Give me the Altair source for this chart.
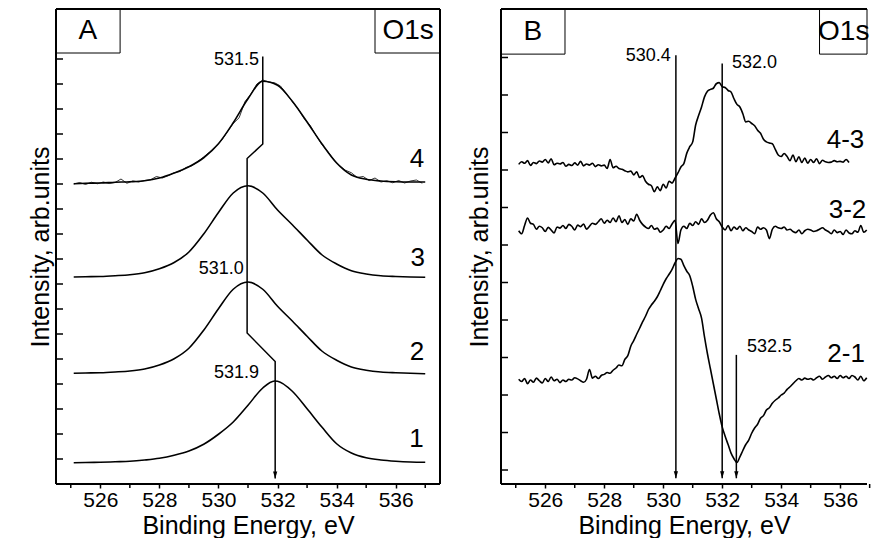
import altair as alt
import pandas as pd

FONT = "Liberation Sans"

# ---------------- Panel A : O1s spectra 1-4 (smooth fits) ----------------
eA = [525.1, 525.5, 526.0, 526.5, 527.0, 527.5, 528.0, 528.5, 529.0, 529.5, 530.0, 530.5,
      531.0, 531.5, 532.0, 532.5, 533.0, 533.5, 534.0, 534.5, 535.0, 535.5, 536.0, 536.5, 537.0]
e1 = [525.1, 525.5, 526.0, 526.5, 527.0, 527.5, 528.0, 528.5, 529.0, 529.5, 530.0, 530.5,
      531.0, 531.5, 531.9, 532.0, 532.5, 533.0, 533.5, 534.0, 534.5, 535.0, 535.5, 536.0, 536.5, 537.0]
fit1 = [0.85, 0.86, 0.87, 0.89, 0.91, 0.96, 1.03, 1.15, 1.32, 1.59, 1.99, 2.48,
        3.15, 3.84, 4.12, 4.11, 3.71, 3.01, 2.28, 1.61, 1.24, 1.05, 0.96, 0.91, 0.88, 0.87]
fit2 = [4.43, 4.44, 4.45, 4.48, 4.52, 4.60, 4.76, 5.01, 5.43, 6.15, 7.01, 7.79,
        8.08, 7.79, 7.11, 6.52, 5.91, 5.32, 4.95, 4.68, 4.55, 4.48, 4.45, 4.43, 4.41]
fit3 = [8.28, 8.29, 8.30, 8.33, 8.37, 8.45, 8.61, 8.86, 9.28, 10.00, 10.86, 11.64,
        11.93, 11.64, 10.96, 10.37, 9.76, 9.17, 8.80, 8.53, 8.40, 8.33, 8.30, 8.28, 8.27]
fit4 = [12.01, 12.03, 12.04, 12.07, 12.09, 12.13, 12.24, 12.44, 12.69, 13.05, 13.61, 14.45,
        15.41, 16.11, 15.95, 15.31, 14.48, 13.61, 12.84, 12.36, 12.19, 12.12, 12.09, 12.08, 12.08]
# raw (noisy) data of spectrum 4, every 0.2 eV from 525.1
raw4 = [12.00, 12.06, 11.98, 12.07, 12.01, 12.08, 12.02, 12.06, 12.20, 12.03,
        12.12, 12.08, 12.14, 12.17, 12.30, 12.24, 12.33, 12.45, 12.50, 12.66,
        12.73, 12.90, 13.08, 13.28, 13.50, 13.74, 14.08, 14.42, 14.65, 15.30,
        15.60, 16.00, 16.16, 16.08, 16.05, 15.92, 15.60, 15.30, 15.00, 14.62,
        14.35, 13.95, 13.58, 13.30, 12.98, 12.74, 12.55, 12.45, 12.26, 12.30,
        12.14, 12.24, 12.08, 12.13, 12.05, 12.14, 12.04, 12.12, 12.16, 12.03]
e_raw4 = [round(525.1 + 0.2 * i, 2) for i in range(len(raw4))]

# peak-position connector (with arrow) in panel A
connA_E = [531.5, 531.5, 530.97, 530.97, 531.92, 531.92]
connA_I = [17.1, 13.6, 13.02, 6.04, 4.9, 0.22]
peakA_text = ["531.5", "531.0", "531.9"]
peakA_E = [531.37, 530.86, 531.37]
peakA_I = [16.96, 8.6, 4.44]
peakA_align = ["right", "right", "right"]
numA_text = ["4", "3", "2", "1"]
numA_E = [536.72, 536.75, 536.72, 536.7]
numA_I = [13.0, 9.04, 5.28, 1.8]
boxA_text = ["A", "O1s"]
boxA_E1 = [524.5, 535.3]
boxA_E2 = [526.67, 537.5]
boxA_I1 = [17.24, 17.24]
boxA_I2 = [19.0, 19.0]
boxA_tE = [525.58, 536.42]
boxA_tI = [18.14, 18.14]
ticksA = list(range(1, 18))

# x-axis: labelled (even) and unlabelled (odd) tick positions
x_major = [526, 528, 530, 532, 534, 536]
x_minor = [525, 527, 529, 531, 533, 535, 537]

# ---------------- Panel B : difference spectra ----------------
b43 = [8.15, 8.22, 8.18, 8.25, 8.12, 8.20, 8.17, 8.24, 8.21, 8.28,
       8.19, 8.30, 8.14, 8.18, 8.16, 8.20, 8.10, 8.15, 8.12, 8.19,
       8.13, 8.23, 8.11, 8.16, 8.13, 8.18, 8.09, 8.14, 8.11, 8.13,
       8.04, 8.28, 8.06, 8.10, 8.04, 8.02, 7.98, 7.95, 7.97, 7.87,
       7.95, 7.80, 7.85, 7.70, 7.62, 7.58, 7.42, 7.55, 7.45, 7.62,
       7.52, 7.70, 7.65, 7.78, 7.92, 8.08, 8.17, 8.45, 8.62, 8.75,
       9.20, 9.45, 9.68, 9.95, 10.10, 10.15, 10.18, 10.30, 10.33, 10.22,
       10.20, 10.12, 10.08, 9.90, 9.75, 9.68, 9.50, 9.28, 9.30, 9.24,
       9.18, 9.06, 8.98, 8.82, 8.75, 8.72, 8.70, 8.55, 8.40, 8.36,
       8.44, 8.36, 8.25, 8.40, 8.22, 8.35, 8.20, 8.32, 8.18, 8.28,
       8.20, 8.30, 8.17, 8.26, 8.22, 8.20, 8.21, 8.25, 8.22, 8.23,
       8.21, 8.28, 8.20]
b32 = [6.38, 6.30, 6.52, 6.72, 6.58, 6.55, 6.42, 6.50, 6.46, 6.36,
       6.47, 6.40, 6.32, 6.48, 6.45, 6.52, 6.44, 6.55, 6.50, 6.40,
       6.53, 6.49, 6.56, 6.42, 6.50, 6.58, 6.55, 6.62, 6.70, 6.58,
       6.66, 6.60, 6.72, 6.62, 6.78, 6.60, 6.68, 6.55, 6.70, 6.64,
       6.82, 6.66, 6.55, 6.48, 6.44, 6.52, 6.42, 6.45, 6.34, 6.40,
       6.50, 6.44, 6.56, 6.66, 6.04, 6.40, 6.50, 6.44, 6.58, 6.52,
       6.62, 6.55, 6.70, 6.60, 6.66, 6.80, 6.86, 6.70, 6.62, 6.48,
       6.40, 6.52, 6.38, 6.48, 6.42, 6.50, 6.38, 6.46, 6.40, 6.36,
       6.30, 6.48, 6.42, 6.46, 6.40, 6.17, 6.42, 6.50, 6.46, 6.44,
       6.48, 6.40, 6.42, 6.36, 6.33, 6.40, 6.30, 6.38, 6.42, 6.40,
       6.36, 6.38, 6.42, 6.46, 6.40, 6.36, 6.30, 6.40, 6.33, 6.36,
       6.28, 6.40, 6.32, 6.30, 6.38, 6.34, 6.52, 6.34, 6.40, 6.42]
b21 = [2.42, 2.36, 2.44, 2.30, 2.40, 2.34, 2.45, 2.38, 2.32, 2.44,
       2.36, 2.48, 2.38, 2.42, 2.33, 2.40, 2.36, 2.42, 2.40, 2.46,
       2.43, 2.38, 2.34, 2.42, 2.68, 2.45, 2.50, 2.44, 2.52, 2.55,
       2.60, 2.58, 2.66, 2.72, 2.80, 2.78, 2.95, 3.05, 3.30, 3.45,
       3.62, 3.78, 3.95, 4.10, 4.28, 4.40, 4.50, 4.62, 4.78, 4.95,
       5.10, 5.22, 5.35, 5.52, 5.64, 5.62, 5.45, 5.30, 5.18, 4.90,
       4.55, 4.30, 4.05, 3.55, 3.10, 2.70, 2.30, 1.90, 1.50, 1.15,
       0.90, 0.68, 0.45, 0.30, 0.20, 0.35, 0.52, 0.68, 0.80, 0.98,
       1.12, 1.22, 1.38, 1.45, 1.60, 1.66, 1.78, 1.86, 1.92, 2.00,
       2.05, 2.15, 2.22, 2.30, 2.38, 2.44, 2.40, 2.45, 2.42, 2.44,
       2.40, 2.46, 2.50, 2.42, 2.48, 2.52, 2.46, 2.50, 2.44, 2.52,
       2.46, 2.50, 2.44, 2.52, 2.48, 2.40, 2.50, 2.38, 2.46, 2.44]
e_b43 = [round(525.1 + 0.1 * i, 2) for i in range(len(b43))]
e_b32 = [round(525.1 + 0.1 * i, 2) for i in range(len(b32))]
e_b21 = [round(525.1 + 0.1 * i, 2) for i in range(len(b21))]

lineB_E = [530.43, 532.0, 532.48]
lineB_top = [11.06, 10.84, 3.07]
lineB_tip = [-0.22, -0.22, -0.22]
peakB_text = ["530.4", "532.0", "532.5"]
peakB_E = [530.26, 532.33, 532.84]
peakB_I = [11.04, 10.85, 3.28]
peakB_align = ["right", "left", "left"]
numB_text = ["4-3", "3-2", "2-1"]
numB_E = [536.18, 536.25, 536.2]
numB_I = [8.8, 6.93, 3.09]
boxB_text = ["B", "O1s"]
boxB_E1 = [524.5, 535.3]
boxB_E2 = [526.67, 536.91]
boxB_I1 = [11.09, 11.09]
boxB_I2 = [12.293, 12.293]
boxB_tE = [525.58, 536.12]
boxB_tI = [11.68, 11.68]
ticksB = list(range(0, 12))

ARROW = "M -0.3 -1 L 0 0 L 0.3 -1 Z"
H = 475


def x_axis():
    return alt.Axis(values=x_major, labelOverlap=False,
                    tickSize=4, tickWidth=1.5, tickColor="black", domain=False, grid=False,
                    labelFont=FONT, labelFontSize=21, labelColor="black", labelPadding=1,
                    title="Binding Energy, eV", titleFont=FONT, titleFontSize=25,
                    titleFontWeight="normal", titleColor="black", titlePadding=3)


def y_axis(tp):
    return alt.Axis(labels=False, ticks=False, domain=False, grid=False,
                    title="Intensity, arb.units", titleFont=FONT, titleFontSize=25,
                    titleFontWeight="normal", titleColor="black", titlePadding=tp)


def panel(lines_df, raw_df, x_dom, y_dom, ytick_df, tp, conn_df, tip_df, rules_df,
          peak_df, num_df, box_df, frame_df, w, h):
    X = alt.X("E:Q", scale=alt.Scale(domain=x_dom, nice=False, zero=False), axis=x_axis())
    Y = alt.Y("I:Q", scale=alt.Scale(domain=y_dom, nice=False, zero=False), axis=y_axis(tp))
    layers = [alt.Chart(lines_df).mark_line(color="black", strokeWidth=1.6, interpolate="monotone")
              .encode(x=X, y=Y, detail="curve:N")]
    if raw_df is not None:
        layers.append(alt.Chart(raw_df).mark_line(color="black", strokeWidth=0.8)
                      .encode(x="E:Q", y="I:Q"))
    if conn_df is not None:
        layers.append(alt.Chart(conn_df).mark_line(color="black", strokeWidth=1.5)
                      .encode(x="E:Q", y="I:Q", order="k:Q"))
    if rules_df is not None:
        layers.append(alt.Chart(rules_df).mark_rule(color="black", strokeWidth=1.5)
                      .encode(x="E:Q", y="I:Q", y2="I2:Q"))
    layers.append(alt.Chart(tip_df).mark_point(shape=ARROW, filled=True, color="black",
                                               size=200, opacity=1)
                  .encode(x="E:Q", y="I:Q"))
    # inward ticks of the left axis
    layers.append(alt.Chart(ytick_df).mark_tick(orient="horizontal", color="black", size=7,
                                                thickness=1.5, opacity=1)
                  .encode(y="I:Q", x=alt.value(3.5)))
    # unlabelled (odd) ticks of the bottom axis
    layers.append(alt.Chart(pd.DataFrame({"E": x_minor})).mark_tick(
        orient="vertical", color="black", size=4, thickness=1.5, opacity=1)
        .encode(x="E:Q", y=alt.value(h + 2)))
    for al in ["right", "left"]:
        sub = peak_df[peak_df["al"] == al]
        if len(sub):
            layers.append(alt.Chart(sub).mark_text(font=FONT, fontSize=18, align=al,
                                                   baseline="middle", color="black")
                          .encode(x="E:Q", y="I:Q", text="t:N"))
    layers.append(alt.Chart(num_df).mark_text(font=FONT, fontSize=26, align="center",
                                              baseline="middle", color="black")
                  .encode(x="E:Q", y="I:Q", text="t:N"))
    layers.append(alt.Chart(box_df).mark_rect(fill="white", stroke="black", strokeWidth=1)
                  .encode(x="E1:Q", x2="E2:Q", y="I1:Q", y2="I2:Q"))
    layers.append(alt.Chart(box_df).mark_text(font=FONT, fontSize=28, align="center",
                                              baseline="middle", color="black")
                  .encode(x="tE:Q", y="tI:Q", text="t:N"))
    layers.append(alt.Chart(frame_df).mark_rule(color="black", strokeWidth=2)
                  .encode(x="E:Q", x2="E2:Q", y="I:Q", y2="I2:Q"))
    return alt.layer(*layers).properties(width=w, height=h)


# ---- data frames A
dfA = pd.concat([
    pd.DataFrame({"E": e1, "I": fit1, "curve": "1"}),
    pd.DataFrame({"E": eA, "I": fit2, "curve": "2"}),
    pd.DataFrame({"E": eA, "I": fit3, "curve": "3"}),
    pd.DataFrame({"E": eA, "I": fit4, "curve": "4"}),
])
rawA = pd.DataFrame({"E": e_raw4, "I": raw4})
connA = pd.DataFrame({"E": connA_E, "I": connA_I, "k": list(range(len(connA_E)))})
tipA = pd.DataFrame({"E": [connA_E[-1]], "I": [connA_I[-1]]})
peakA = pd.DataFrame({"E": peakA_E, "I": peakA_I, "t": peakA_text, "al": peakA_align})
numA = pd.DataFrame({"E": numA_E, "I": numA_I, "t": numA_text})
boxA = pd.DataFrame({"E1": boxA_E1, "E2": boxA_E2, "I1": boxA_I1, "I2": boxA_I2,
                     "tE": boxA_tE, "tI": boxA_tI, "t": boxA_text})
frameA = pd.DataFrame({"E": [524.5, 537.5, 524.5, 524.5], "E2": [524.5, 537.5, 537.5, 537.5],
                       "I": [0, 0, 19, 0], "I2": [19, 19, 19, 0]})
ytickA = pd.DataFrame({"I": ticksA})

# ---- data frames B
dfB = pd.concat([
    pd.DataFrame({"E": e_b43, "I": b43, "curve": "4-3"}),
    pd.DataFrame({"E": e_b32, "I": b32, "curve": "3-2"}),
    pd.DataFrame({"E": e_b21, "I": b21, "curve": "2-1"}),
])
dfB = dfB[dfB["E"] <= 536.9]
rulesB = pd.DataFrame({"E": lineB_E, "I": lineB_tip, "I2": lineB_top})
tipB = pd.DataFrame({"E": lineB_E, "I": lineB_tip})
peakB = pd.DataFrame({"E": peakB_E, "I": peakB_I, "t": peakB_text, "al": peakB_align})
numB = pd.DataFrame({"E": numB_E, "I": numB_I, "t": numB_text})
boxB = pd.DataFrame({"E1": boxB_E1, "E2": boxB_E2, "I1": boxB_I1, "I2": boxB_I2,
                     "tE": boxB_tE, "tI": boxB_tI, "t": boxB_text})
frameB = pd.DataFrame({"E": [524.5, 524.5, 524.5], "E2": [524.5, 536.91, 536.91],
                       "I": [-0.373, 12.293, -0.373], "I2": [12.293, 12.293, -0.373]})
ytickB = pd.DataFrame({"I": ticksB})

chartA = panel(dfA, rawA, [524.5, 537.5], [0, 19], ytickA, 3,
               connA, tipA, None, peakA, numA, boxA, frameA, 384, H)
chartB = panel(dfB, None, [524.5, 536.91], [-0.373, 12.293], ytickB, 9,
               None, tipB, rulesB, peakB, numB, boxB, frameB, 366, H)

chart = alt.hconcat(chartA, chartB, spacing=26).properties(
    padding={"left": 20, "top": 0, "right": 0, "bottom": 0}
).configure_view(stroke=None)

chart.save("out.html", embed_options={"renderer": "svg", "actions": False})
